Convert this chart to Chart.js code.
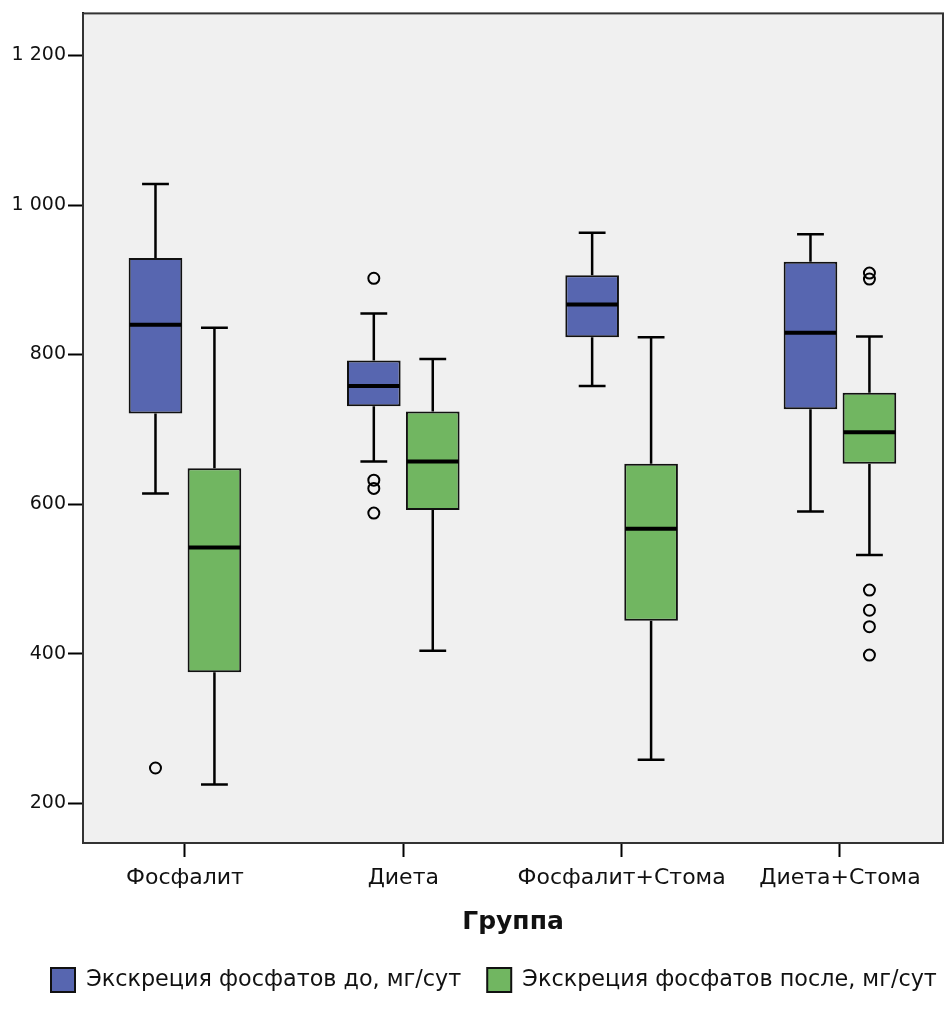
<!DOCTYPE html>
<html>
<head>
<meta charset="utf-8">
<script src="https://cdn.jsdelivr.net/npm/chart.js@4.4.1/dist/chart.umd.min.js"></script>
<style>
  html, body { margin: 0; padding: 0; background: #fff; }
  #wrap { width: 950px; height: 1022px; }
</style>
</head>
<body>
<div id="wrap"><canvas id="boxChart"></canvas></div>
<script>
// Groups on the x axis
const groups = ['Фосфалит', 'Диета', 'Фосфалит+Стома', 'Диета+Стома'];
const seriesNames = ['Экскреция фосфатов до, мг/сут', 'Экскреция фосфатов после, мг/сут'];
const yTicks = [200, 400, 600, 800, 1000, 1200];

// "before" series (blue)
const beforeMin    = [614, 657, 758, 590];
const beforeQ1     = [721, 731, 823, 727];
const beforeMedian = [840, 758, 867, 829];
const beforeQ3     = [929, 792, 906, 924];
const beforeMax    = [1028, 855, 963, 961];
const beforeOutliers = [[247], [902, 632, 621, 588], [], []];

// "after" series (green)
const afterMin    = [225, 404, 258, 532];
const afterQ1     = [375, 592, 444, 654];
const afterMedian = [542, 657, 567, 696];
const afterQ3     = [648, 724, 654, 749];
const afterMax    = [836, 794, 823, 824];
const afterOutliers = [[], [], [], [909, 901, 485, 458, 436, 398]];

const stats = [
    { min: beforeMin, q1: beforeQ1, median: beforeMedian, q3: beforeQ3, max: beforeMax, out: beforeOutliers },
    { min: afterMin, q1: afterQ1, median: afterMedian, q3: afterQ3, max: afterMax, out: afterOutliers }
];

const fontFamily = "'DejaVu Sans', sans-serif";
Chart.defaults.font.family = fontFamily;
Chart.defaults.color = '#111';

// whiskers, medians, outliers, plot background and frame
const boxParts = {
    id: 'boxParts',
    afterLayout(chart) {
        // legend row starts near the left edge like in SPSS
        chart.legend.left = 25;
        chart.legend.right = 965;
    },
    beforeDraw(chart) {
        const { ctx, chartArea: a } = chart;
        ctx.save();
        ctx.fillStyle = '#f0f0f0';
        ctx.fillRect(a.left, a.top, a.right - a.left, a.bottom - a.top);
        ctx.restore();
    },
    beforeDatasetsDraw(chart) {
        const ctx = chart.ctx;
        const y = chart.scales.y;
        ctx.save();
        ctx.strokeStyle = '#000';
        ctx.lineWidth = 2.5;
        stats.forEach((s, i) => {
            chart.getDatasetMeta(i).data.forEach((bar, j) => {
                const half = bar.width / 4;
                const yMax = y.getPixelForValue(s.max[j]);
                const yMin = y.getPixelForValue(s.min[j]);
                ctx.beginPath();
                ctx.moveTo(bar.x, yMax);
                ctx.lineTo(bar.x, y.getPixelForValue(s.q3[j]));
                ctx.moveTo(bar.x, yMin);
                ctx.lineTo(bar.x, y.getPixelForValue(s.q1[j]));
                ctx.moveTo(bar.x - half, yMax);
                ctx.lineTo(bar.x + half, yMax);
                ctx.moveTo(bar.x - half, yMin);
                ctx.lineTo(bar.x + half, yMin);
                ctx.stroke();
            });
        });
        ctx.restore();
    },
    afterDatasetsDraw(chart) {
        const ctx = chart.ctx;
        const y = chart.scales.y;
        ctx.save();
        stats.forEach((s, i) => {
            chart.getDatasetMeta(i).data.forEach((bar, j) => {
                const ym = y.getPixelForValue(s.median[j]);
                ctx.strokeStyle = '#000';
                ctx.lineWidth = 4;
                ctx.beginPath();
                ctx.moveTo(bar.x - bar.width / 2 + 1, ym);
                ctx.lineTo(bar.x + bar.width / 2 - 1, ym);
                ctx.stroke();

                ctx.lineWidth = 2;
                s.out[j].forEach(v => {
                    ctx.beginPath();
                    ctx.arc(bar.x, y.getPixelForValue(v), 5.5, 0, Math.PI * 2);
                    ctx.stroke();
                });
            });
        });
        ctx.restore();
    },
    afterDraw(chart) {
        const { ctx, chartArea: a } = chart;
        ctx.save();
        ctx.strokeStyle = '#333';
        ctx.lineWidth = 2;
        ctx.strokeRect(a.left, a.top, a.right - a.left, a.bottom - a.top);
        ctx.restore();
    }
};

function boxData(s) {
    return groups.map((g, j) => ({ x: j, y: [s.q1[j], s.q3[j]] }));
}

new Chart(document.getElementById('boxChart'), {
    type: 'bar',
    data: {
        datasets: [
            {
                label: seriesNames[0],
                data: boxData(stats[0]),
                backgroundColor: '#5766b0',
                borderColor: '#111',
                borderWidth: 2,
                borderSkipped: false
            },
            {
                label: seriesNames[1],
                data: boxData(stats[1]),
                backgroundColor: '#71b661',
                borderColor: '#111',
                borderWidth: 2,
                borderSkipped: false
            }
        ]
    },
    options: {
        responsive: true,
        maintainAspectRatio: false,
        animation: false,
        categoryPercentage: 0.54,
        barPercentage: 0.91,
        layout: { padding: { top: 10, right: 7, left: 0, bottom: 20 } },
        plugins: {
            tooltip: { enabled: false },
            legend: {
                position: 'bottom',
                align: 'start',
                labels: {
                    boxWidth: 24,
                    boxHeight: 24,
                    padding: 26,
                    color: '#111',
                    font: { size: 22.3 }
                }
            }
        },
        scales: {
            x: {
                type: 'linear',
                offset: false,
                min: -0.467,
                max: 3.472,
                afterFit: s => { s.height = 99; },
                afterBuildTicks: s => { s.ticks = groups.map((g, j) => ({ value: j })); },
                ticks: {
                    callback: v => groups[v],
                    font: { size: 22 },
                    color: '#111',
                    padding: 8,
                    maxRotation: 0,
                    autoSkip: false
                },
                grid: { offset: false, drawOnChartArea: false, tickLength: 14, tickColor: '#000', tickWidth: 2 },
                border: { color: '#000', width: 2 },
                title: {
                    display: true,
                    text: 'Группа',
                    font: { size: 25, weight: 'bold' },
                    color: '#111',
                    padding: { top: 10, bottom: 5 }
                }
            },
            y: {
                min: 146.7,
                max: 1256.3,
                afterFit: s => { s.width = 83; },
                afterBuildTicks: s => { s.ticks = yTicks.map(v => ({ value: v })); },
                ticks: {
                    callback: v => String(v).replace(/\B(?=(\d{3})+$)/g, ' '),
                    font: { size: 19 },
                    color: '#111',
                    padding: 2
                },
                grid: { drawOnChartArea: false, tickLength: 15, tickColor: '#000', tickWidth: 2 },
                border: { color: '#000', width: 2 }
            }
        }
    },
    plugins: [boxParts]
});
</script>
</body>
</html>
